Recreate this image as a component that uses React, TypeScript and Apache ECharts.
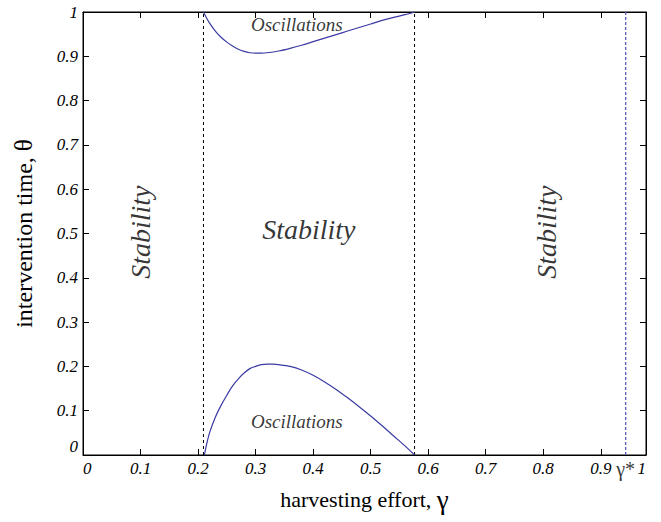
import React, { useEffect, useRef } from "react";
import * as echarts from "echarts";

// x-axis tick labels (0 .. 0.9, and "1" at the right edge of the frame)
const xTickLabels = ["0", "0.1", "0.2", "0.3", "0.4", "0.5", "0.6", "0.7", "0.8", "0.9"];
const xEdgeLabel = "1";
const yTickLabels = ["0", "0.1", "0.2", "0.3", "0.4", "0.5", "0.6", "0.7", "0.8", "0.9", "1"];

const xMax = 0.9786;
const gammaStar = 0.9433;
const boundaries = [0.2094, 0.5763];

// upper Hopf curve (oscillations near theta = 1)
const upperX = [0.2094, 0.215, 0.22, 0.23, 0.24, 0.25, 0.26, 0.27, 0.28, 0.29, 0.3, 0.31, 0.32, 0.34, 0.36, 0.38, 0.4, 0.42, 0.44, 0.46, 0.48, 0.5, 0.52, 0.54, 0.56, 0.5763];
const upperY = [1.0, 0.986, 0.975, 0.957, 0.943, 0.932, 0.923, 0.916, 0.911, 0.908, 0.907, 0.907, 0.908, 0.912, 0.918, 0.925, 0.933, 0.941, 0.949, 0.957, 0.965, 0.973, 0.981, 0.988, 0.994, 1.0];

// lower Hopf curve (oscillations near theta = 0)
const lowerX = [0.211, 0.215, 0.22, 0.23, 0.24, 0.25, 0.26, 0.27, 0.28, 0.29, 0.3, 0.31, 0.32, 0.33, 0.34, 0.36, 0.38, 0.4, 0.42, 0.44, 0.46, 0.48, 0.5, 0.52, 0.54, 0.56, 0.5763];
const lowerY = [0.0, 0.025, 0.05, 0.085, 0.112, 0.135, 0.156, 0.172, 0.185, 0.195, 0.2, 0.204, 0.205, 0.205, 0.204, 0.2, 0.192, 0.18, 0.165, 0.148, 0.129, 0.109, 0.088, 0.066, 0.043, 0.02, 0.0];

const serif = "Liberation Serif";
const curveColor = "#3a3aa4";

export default function App() {
  const ref = useRef<HTMLDivElement>(null);

  useEffect(() => {
    document.body.style.margin = "0";
    const chart = echarts.init(ref.current!, null, { renderer: "svg" });

    const xFmt = (v: number) => {
      if (Math.abs(v - xMax) < 1e-6) return xEdgeLabel;
      const i = Math.round(v * 10);
      return xTickLabels[i] ?? "";
    };
    const yFmt = (v: number) => yTickLabels[Math.round(v * 10)] ?? "";

    const tickLabelStyle = {
      fontFamily: serif,
      fontStyle: "italic",
      fontSize: 17,
      color: "#000",
    };

    const annotation = (x: number, y: number, text: string, size: number, rotate = 0) => ({
      value: [x, y],
      label: {
        show: true,
        position: "inside",
        formatter: text,
        rotate,
        fontFamily: serif,
        fontStyle: "italic",
        fontSize: size,
        color: "#000",
      },
    });

    const nameStyle = (size: number, greek: number) => ({
      fontFamily: serif,
      fontSize: size,
      color: "#000",
      rich: {
        g: { fontFamily: serif, fontSize: greek, color: "#000" },
      },
    });

    const option: any = {
      animation: false,
      backgroundColor: "#fff",
      textStyle: { fontFamily: serif },
      grid: {
        left: 83,
        right: 15,
        top: 12,
        bottom: 67,
        show: true,
        borderColor: "#000",
        borderWidth: 1,
        backgroundColor: "transparent",
      },
      xAxis: [
        {
          type: "value",
          min: 0,
          max: xMax,
          interval: 0.1,
          position: "bottom",
          axisLine: { show: true, onZero: false, lineStyle: { color: "#000", width: 1 } },
          axisTick: { show: true, inside: true, length: 6, lineStyle: { color: "#000" } },
          axisLabel: {
            ...tickLabelStyle,
            margin: 5,
            formatter: xFmt,
            showMaxLabel: true,
            alignMinLabel: "left",
            alignMaxLabel: "right",
          },
          splitLine: { show: false },
          name: "harvesting effort, {g|γ}",
          nameLocation: "middle",
          nameGap: 31,
          nameTextStyle: nameStyle(22, 27),
        },
        {
          type: "value",
          min: 0,
          max: xMax,
          interval: 0.1,
          position: "top",
          axisLine: { show: true, onZero: false, lineStyle: { color: "#000", width: 1 } },
          axisTick: { show: true, inside: true, length: 6, lineStyle: { color: "#000" } },
          axisLabel: { show: false },
          splitLine: { show: false },
        },
      ],
      yAxis: [
        {
          type: "value",
          min: 0,
          max: 1,
          interval: 0.1,
          position: "left",
          axisLine: { show: true, onZero: false, lineStyle: { color: "#000", width: 1 } },
          axisTick: { show: true, inside: true, length: 6, lineStyle: { color: "#000" } },
          axisLabel: {
            ...tickLabelStyle,
            margin: 5,
            formatter: yFmt,
            verticalAlignMinLabel: "bottom",
          },
          splitLine: { show: false },
          name: "intervention time, {g|θ}",
          nameLocation: "middle",
          nameGap: 47,
          nameTextStyle: nameStyle(24, 25),
        },
        {
          type: "value",
          min: 0,
          max: 1,
          interval: 0.1,
          position: "right",
          axisLine: { show: true, onZero: false, lineStyle: { color: "#000", width: 1 } },
          axisTick: { show: true, inside: true, length: 6, lineStyle: { color: "#000" } },
          axisLabel: { show: false },
          splitLine: { show: false },
        },
      ],
      series: [
        {
          type: "line",
          data: upperX.map((x, i) => [x, upperY[i]]),
          showSymbol: false,
          symbol: "none",
          smooth: 0.3,
          lineStyle: { color: curveColor, width: 1.2 },
          z: 3,
        },
        {
          type: "line",
          data: lowerX.map((x, i) => [x, lowerY[i]]),
          showSymbol: false,
          symbol: "none",
          smooth: 0.3,
          lineStyle: { color: curveColor, width: 1.2 },
          z: 3,
        },
        ...boundaries.map((b) => ({
          type: "line",
          data: [
            [b, 0],
            [b, 1],
          ],
          symbol: "none",
          lineStyle: { color: "#000", width: 1, type: [3, 3] },
          z: 2,
        })),
        {
          type: "line",
          data: [
            [gammaStar, 0],
            [gammaStar, 1],
          ],
          symbol: "none",
          lineStyle: { color: "#5a5ab8", width: 1.3, type: [3, 2] },
          z: 2,
        },
        {
          type: "scatter",
          symbolSize: 1,
          itemStyle: { color: "rgba(0,0,0,0)" },
          silent: true,
          clip: false,
          z: 5,
          data: [
            annotation(0.3717, 0.971, "Oscillations", 19),
            annotation(0.3717, 0.0745, "Oscillations", 19),
            annotation(0.3925, 0.508, "Stability", 28),
            annotation(0.1003, 0.503, "Stability", 28, 90),
            annotation(0.8064, 0.503, "Stability", 28, 90),
            {
              value: [gammaStar, 0],
              label: {
                show: true,
                position: "bottom",
                distance: 3,
                formatter: "γ*",
                fontFamily: serif,
                fontSize: 20,
                color: "#000",
              },
            },
          ],
        },
      ],
    };

    chart.setOption(option);
    return () => chart.dispose();
  }, []);

  return <div ref={ref} style={{ width: 661, height: 522 }} />;
}
